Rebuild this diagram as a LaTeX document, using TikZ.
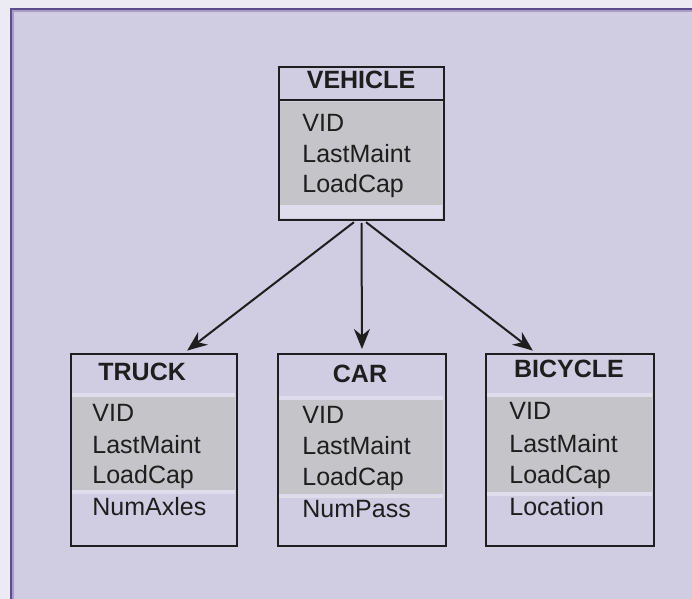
\documentclass[tikz,border=0pt]{standalone}
\usepackage{fontspec}
\setmainfont{Liberation Sans}
\usetikzlibrary{arrows.meta, positioning}

\definecolor{pagebg}{HTML}{ECEAF3}
\definecolor{panelbg}{HTML}{D0CCE2}
\definecolor{panelrim}{HTML}{5E4D8C}
\definecolor{panelhi}{HTML}{A89BC8}
\definecolor{attrgray}{HTML}{C5C4C8}
\definecolor{stripe}{HTML}{DFDCEB}
\definecolor{ink}{HTML}{1E1E1E}

\tikzset{
	classbox/.style={draw=ink, line width=1pt, inner sep=0pt, anchor=north west},
	classtitle/.style={font=\bfseries\fontsize{12.5}{14}\selectfont, text=ink, inner sep=0pt, anchor=base},
	attr/.style={font=\fontsize{12.5}{14}\selectfont, text=ink, inner sep=0pt, anchor=base west},
	isa/.style={draw=ink, line width=1pt, -{Stealth[length=10pt,width=8pt]}, shorten <=1pt, shorten >=2pt},
}

\begin{document}
\begin{tikzpicture}[x=0.5pt, y=-0.5pt]
	\useasboundingbox (0,0) rectangle (692,599);
	% page and panel
	\fill[pagebg] (0,0) rectangle (692,599);
	\fill[panelbg] (11,9) rectangle (692,599);
	\draw[panelhi, line width=0.6pt] (13,599) -- (13,11) -- (692,11);
	\draw[panelrim, line width=1pt] (11,599) -- (11,9) -- (692,9);

	% shaded attribute bands
	\fill[attrgray] (279,102) rectangle (442,205);
	\fill[stripe] (279,205) rectangle (442,218);
	\fill[stripe] (71,393) rectangle (235,397);
	\fill[attrgray] (71,397) rectangle (235,490);
	\fill[stripe] (71,490) rectangle (235,494);
	\fill[stripe] (278,396) rectangle (443,400);
	\fill[attrgray] (278,400) rectangle (443,494);
	\fill[stripe] (278,494) rectangle (443,498);
	\fill[stripe] (486,393) rectangle (652,397);
	\fill[attrgray] (486,397) rectangle (652,492);
	\fill[stripe] (486,492) rectangle (652,496);

	% class boxes
	\node[classbox, minimum width=82.5pt, minimum height=76.5pt] (vehicle) at (278,66) {};
	\node[classbox, minimum width=83pt, minimum height=96pt] (truck) at (70,353) {};
	\node[classbox, minimum width=84pt, minimum height=96pt] (car) at (277,353) {};
	\node[classbox, minimum width=84pt, minimum height=96pt] (bicycle) at (485,353) {};
	\draw[ink, line width=1pt] (vehicle.west |- 0,100) -- (vehicle.east |- 0,100);

	% VEHICLE
	\node[classtitle] (vehicle-name) at (361,89) {VEHICLE};
	\node[attr] (vehicle-vid) at (302,132) {VID};
	\node[attr] (vehicle-maint) at (302,163) {LastMaint};
	\node[attr] (vehicle-load) at (302,193) {LoadCap};

	% TRUCK
	\node[classtitle, anchor=base west] (truck-name) at (98,380) {TRUCK};
	\node[attr] (truck-vid) at (92,422) {VID};
	\node[attr] (truck-maint) at (92,453) {LastMaint};
	\node[attr] (truck-load) at (92,483) {LoadCap};
	\node[attr] (truck-axles) at (92,515) {NumAxles};

	% CAR
	\node[classtitle] (car-name) at (360,383) {CAR};
	\node[attr] (car-vid) at (302,423) {VID};
	\node[attr] (car-maint) at (302,454) {LastMaint};
	\node[attr] (car-load) at (302,485) {LoadCap};
	\node[attr] (car-pass) at (302,517) {NumPass};

	% BICYCLE
	\node[classtitle] (bicycle-name) at (569,378) {BICYCLE};
	\node[attr] (bicycle-vid) at (509,420) {VID};
	\node[attr] (bicycle-maint) at (509,452) {LastMaint};
	\node[attr] (bicycle-load) at (509,483) {LoadCap};
	\node[attr] (bicycle-loc) at (509,515) {Location};

	% specialisation arrows
	\draw[isa] ([xshift=-3pt]vehicle.south) -- ([xshift=15pt]truck.north);
	\draw[isa] (vehicle.south) -- (car.north);
	\draw[isa] ([xshift=1.5pt]vehicle.south) -- ([xshift=-17pt]bicycle.north);
\end{tikzpicture}
\end{document}
